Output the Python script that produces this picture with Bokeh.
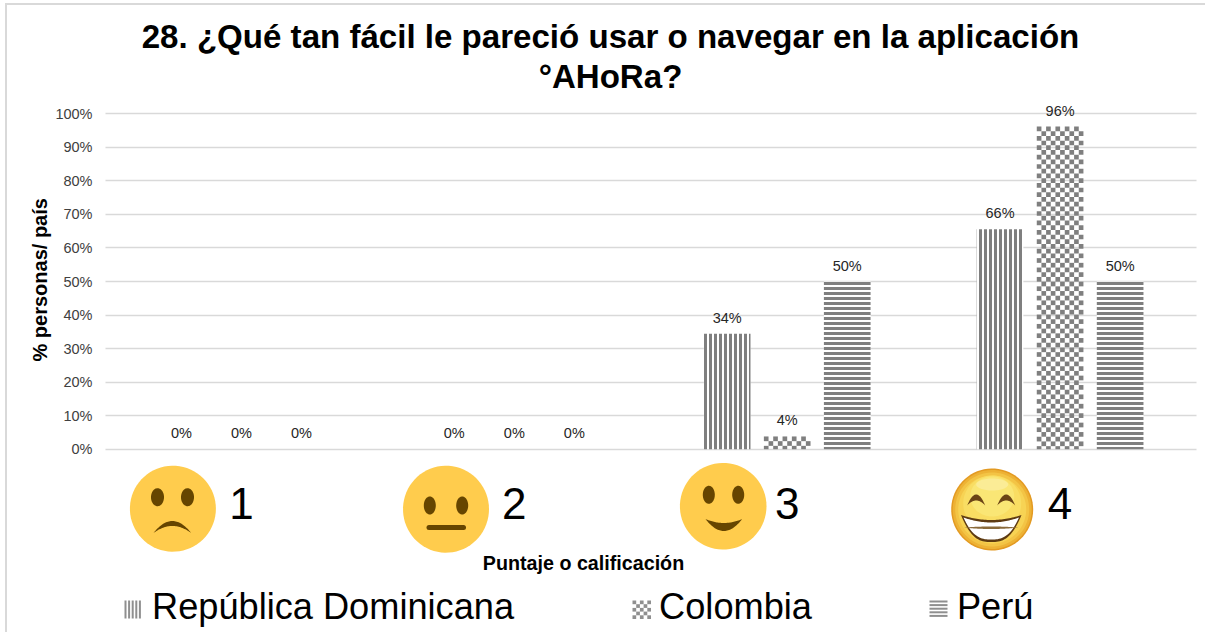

import numpy as np
from bokeh.plotting import figure
from bokeh.embed import file_html
from bokeh.resources import INLINE
from bokeh.core.properties import value
from bokeh.models import (ColumnDataSource, Range1d, FixedTicker, Label, Legend, LegendItem, Title)

categories = ["1", "2", "3", "4"]
category_pos = [1, 2, 3, 4]
republica_dominicana = [0, 0, 34.4, 65.6]
colombia = [0, 0, 3.8, 96.2]
peru = [0, 0, 50, 50]
rd_labels = ["0%", "0%", "34%", "66%"]
co_labels = ["0%", "0%", "4%", "96%"]
pe_labels = ["0%", "0%", "50%", "50%"]
y_ticks = [0, 10, 20, 30, 40, 50, 60, 70, 80, 90, 100]
series_names = ["República Dominicana", "Colombia", "Perú"]

OX, OY = 7, 5             # page position of the figure's content
W, H = 1207 - OX, 634 - OY
GRAY = "#7f7f7f"
SW = "#8f8f8f"
FL, FR, FT, FB = 105, OX + W, OY, OY + H   # frame edges, in page pixels
Y0 = 448.7
PX = (448.7 - 113.3) / 100
CELL = 4.7
def X(px): return 1 + (np.asarray(px, dtype=float) - 240.9) / 272.9
def Yv(py): return (Y0 - np.asarray(py, dtype=float)) / PX

p = figure(width=W, height=H, output_backend="svg", toolbar_location=None,
           x_range=Range1d(float(X(FL)), float(X(FR))), y_range=Range1d(float(Yv(FB)), float(Yv(FT))),
           min_border_left=FL - OX, min_border_right=0, min_border_top=0, min_border_bottom=0,
           outline_line_color=None, background_fill_color="white",
           margin=(3, 0, 0, 5),
           styles={"border-top": "2px solid #d9d9d9", "border-left": "2px solid #d9d9d9"})

p.xgrid.visible = False
p.xaxis.visible = False
p.ygrid.grid_line_color = "#d9d9d9"
p.ygrid.grid_line_width = 1.5
p.ygrid.ticker = FixedTicker(ticks=y_ticks)
p.ygrid.cross_bounds = (0.5, 4.5)

p.yaxis.ticker = FixedTicker(ticks=y_ticks)
p.yaxis.major_label_overrides = {t: f"{t}%" for t in y_ticks}
p.yaxis.axis_line_color = None
p.yaxis.major_tick_line_color = None
p.yaxis.minor_tick_line_color = None
p.yaxis.major_tick_out = 0
p.yaxis.major_label_text_font = "Liberation Sans"
p.yaxis.major_label_text_font_size = "14.5px"
p.yaxis.major_label_text_color = "#404040"
p.yaxis.major_label_standoff = 13

OFF, BW = 0.22, 0.171
CW = BW / 10                # checker cell width in x units
CH = CELL / PX              # checker cell height in y units
specs = [(republica_dominicana, rd_labels, -OFF, dict(hatch_pattern="vertical_line", hatch_scale=5, hatch_weight=3, hatch_color=GRAY, fill_color="white")),
         (colombia, co_labels, 0, None),
         (peru, pe_labels, OFF, dict(hatch_pattern="horizontal_line", hatch_scale=5, hatch_weight=3, hatch_color=GRAY, fill_color="white"))]

# checker bars for Colombia, built from its values
cl, cr, ct, cb = [], [], [], []
for c, v in zip(category_pos, colombia):
    rows = int(np.ceil(v / CH))
    for i in range(rows):
        top = v - i * CH
        bot = max(top - CH, 0)
        for j in range(10):
            if (i + j) % 2 == 0:
                left = c - BW / 2 + j * CW
                cl.append(left); cr.append(left + CW); ct.append(top); cb.append(bot)
p.quad(left=cl, right=cr, top=ct, bottom=cb, fill_color=GRAY, line_color=None)

# legend swatches (finer than the bars' own patterns)
sw_l, sw_r, sw_t, sw_b = [], [], [], []
for i in range(5):
    for j in range(5):
        if (i + j) % 2 == 0:
            sw_l.append(float(X(632 + j * 3.7))); sw_r.append(float(X(632 + (j + 1) * 3.7)))
            sw_t.append(float(Yv(600 + i * 3.7))); sw_b.append(float(Yv(600 + (i + 1) * 3.7)))
for k in range(5):
    sw_l.append(float(X(124 + k * 3.6))); sw_r.append(float(X(124 + k * 3.6 + 2)))
    sw_t.append(float(Yv(600))); sw_b.append(float(Yv(618)))
    sw_l.append(float(X(929))); sw_r.append(float(X(947)))
    sw_t.append(float(Yv(600 + k * 3.6))); sw_b.append(float(Yv(600 + k * 3.6 + 2)))
p.quad(left=sw_l, right=sw_r, top=sw_t, bottom=sw_b, fill_color=SW, line_color=None)

items = []
for name, (vals, labs, off, style) in zip(series_names, specs):
    src = ColumnDataSource(dict(x=[c + off for c in category_pos], top=vals, lab=labs))
    if style:
        p.vbar(x="x", top="top", bottom=0, width=BW, source=src, line_color=None, **style)
    r = p.vbar(x="x", top="top", bottom=0, width=BW, source=src, line_color=None, fill_alpha=0)
    p.text(x="x", y="top", text="lab", source=src, text_align="center", text_baseline="middle",
           y_offset=-16, text_font=value("Liberation Sans"), text_font_size="14.5px", text_color="#262626")
    items.append(LegendItem(label=name, renderers=[r]))

legend = Legend(items=items, orientation="horizontal", location=(19, FB - 628), spacing=117,
                glyph_width=18, glyph_height=18, label_standoff=10, padding=0, margin=0,
                border_line_color=None, background_fill_alpha=0,
                label_text_font="Liberation Sans", label_text_font_size="36.2px", label_text_color="black",
                label_height=40)
p.add_layout(legend, "center")

ytitle = Title(text="% personas/ país", text_font="Liberation Sans", text_font_size="20px", text_font_style="bold",
               text_color="black", align="left", offset=(FB - 361), standoff=3)
p.add_layout(ytitle, "left")

def text(x, y, s, size, bold=False, align="center", color="black"):
    p.add_layout(Label(x=float(X(x)), y=float(Yv(y)), text=s, text_font="Liberation Sans", text_font_size=size,
                       text_font_style="bold" if bold else "normal", text_align=align,
                       text_baseline="middle", text_color=color))

text(610, 36, "28. ¿Qué tan fácil le pareció usar o navegar en la aplicación", "33.1px", True)
text(610, 76, "°AHoRa?", "33.1px", True)
text(583, 562, "Puntaje o calificación", "19.7px", True)

p.text(x=category_pos, y=[float(Yv(503))] * 4, text=categories, text_align="center", text_baseline="middle",
       text_font=value("Liberation Sans"), text_font_size="44px", text_color="black")

def poly(xs, ys, color):
    p.patch(X(np.asarray(xs)), Yv(np.asarray(ys)), fill_color=color, line_color=None)

def ell(cx, cy, rx, ry, color):
    t = np.linspace(0, 2 * np.pi, 72)
    poly(cx + rx * np.cos(t), cy + ry * np.sin(t), color)

def crescent(x0, x1, y_end, h_outer, h_inner, color, n=2.0):
    u = np.linspace(-1, 1, 40)
    xs = (x0 + x1) / 2 + (x1 - x0) / 2 * u
    a = y_end + h_outer * (1 - np.abs(u) ** n)
    b = y_end + h_inner * (1 - u ** 2)
    poly(np.r_[xs, xs[::-1]], np.r_[a, b[::-1]], color)

Y = "#FFCC4D"; B = "#664500"
ell(172.4, 508.2, 43, 43, Y); ell(157, 496.7, 6.5, 9, B); ell(187, 496.7, 6.5, 9, B)
crescent(153, 190.7, 532.5, -12, -7, B)
ell(445.5, 508.7, 43, 43.5, Y); ell(429.3, 505, 6, 9, B); ell(461.7, 505, 6, 9, B)
p.line(X([428.5, 463]), Yv([527, 527]), line_color=B, line_width=5, line_cap="round")
ell(722.7, 505.7, 43.3, 43.3, Y); ell(708.3, 494.3, 6, 9, B); ell(737.7, 494.3, 6, 9, B)
crescent(705, 741.7, 518.5, 12, 4, B)
for r_, col in ((41, "#E39A22"), (39.5, "#EDB235"), (37, "#F3C445"), (34, "#F7D354")):
    ell(991.7, 509, r_, r_, col)
ell(991.7, 503, 29, 28, "#F9DD63"); ell(991.7, 496, 22, 20, "#FAE675")
ell(991.7, 484, 16, 6, "#FBEC96")
crescent(960.5, 1021, 514.5, 27, 5, "#5E3B12", n=2.8)
crescent(963, 1018.5, 517, 22, 5, "#FFFFFF", n=2.8)
crescent(963.5, 1018, 527, 1.5, -1, "#8A6A3A")
for ex in (975.7, 1005.7):
    crescent(ex - 9, ex + 9, 505, -11, -5, "#6B4416")

open("out.html", "w").write(file_html(p, INLINE))
